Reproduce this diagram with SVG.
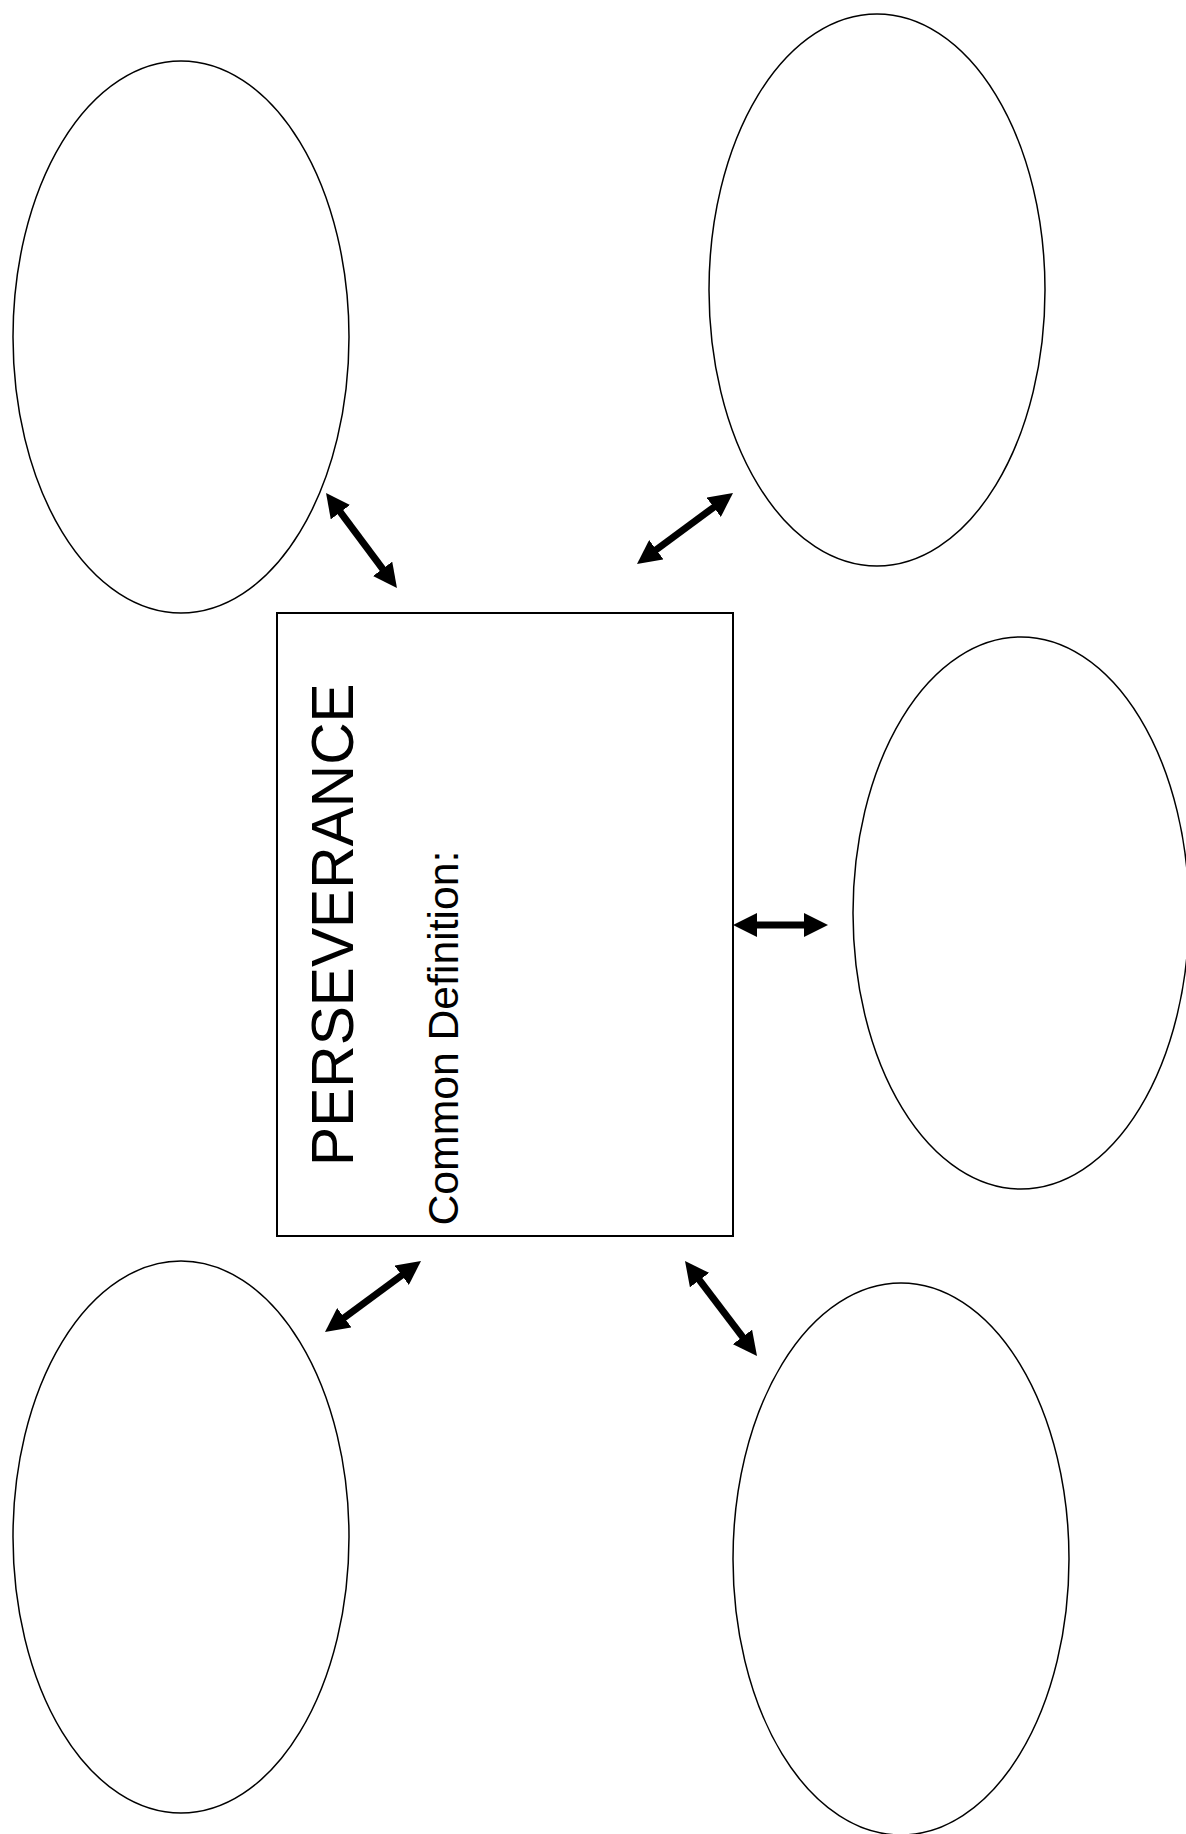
<svg xmlns="http://www.w3.org/2000/svg" width="1186" height="1834" viewBox="0 0 1186 1834">
<style>
.oval{fill:#fff;stroke:#000;stroke-width:1.5}
.box{fill:#fff;stroke:#000;stroke-width:2}
.arr{stroke:#000;stroke-width:7;fill:none;marker-start:url(#head);marker-end:url(#head)}
.t{font-family:"Liberation Sans",Arial,sans-serif;fill:#000}
</style>
<defs>
<marker id="head" viewBox="0 0 24 24" refX="1" refY="12" markerWidth="24" markerHeight="24" markerUnits="userSpaceOnUse" orient="auto-start-reverse">
<path d="M0,0 L24,12 L0,24 z" fill="#000"/>
</marker>
</defs>
<rect width="1186" height="1834" fill="#fff"/>
<g id="oval-top-left"><ellipse class="oval" cx="181" cy="337" rx="168" ry="276"/></g>
<g id="oval-top-right"><ellipse class="oval" cx="877" cy="290" rx="168" ry="276"/></g>
<g id="oval-right"><ellipse class="oval" cx="1021" cy="913" rx="168" ry="276"/></g>
<g id="oval-bottom-left"><ellipse class="oval" cx="181" cy="1537" rx="168" ry="276"/></g>
<g id="oval-bottom-right"><ellipse class="oval" cx="901" cy="1559" rx="168" ry="276"/></g>
<g id="center">
<rect class="box" x="277" y="613" width="456" height="623"/>
<text class="t" font-size="58.7" transform="translate(353.3,1166) rotate(-90)">PERSEVERANCE</text>
<text class="t" font-size="42.7" transform="translate(458.3,1225.5) rotate(-90)">Common Definition:</text>
</g>
<g id="connectors">
<line class="arr" x1="339.8" y1="511.4" x2="383.2" y2="569.6"/>
<line class="arr" x1="655.5" y1="550.3" x2="714.5" y2="506.7"/>
<line class="arr" x1="343.5" y1="1318.3" x2="402.5" y2="1274.7"/>
<line class="arr" x1="698.9" y1="1279.3" x2="743.1" y2="1337.7"/>
<line class="arr" x1="756" y1="925" x2="805" y2="925"/>
</g>
</svg>
